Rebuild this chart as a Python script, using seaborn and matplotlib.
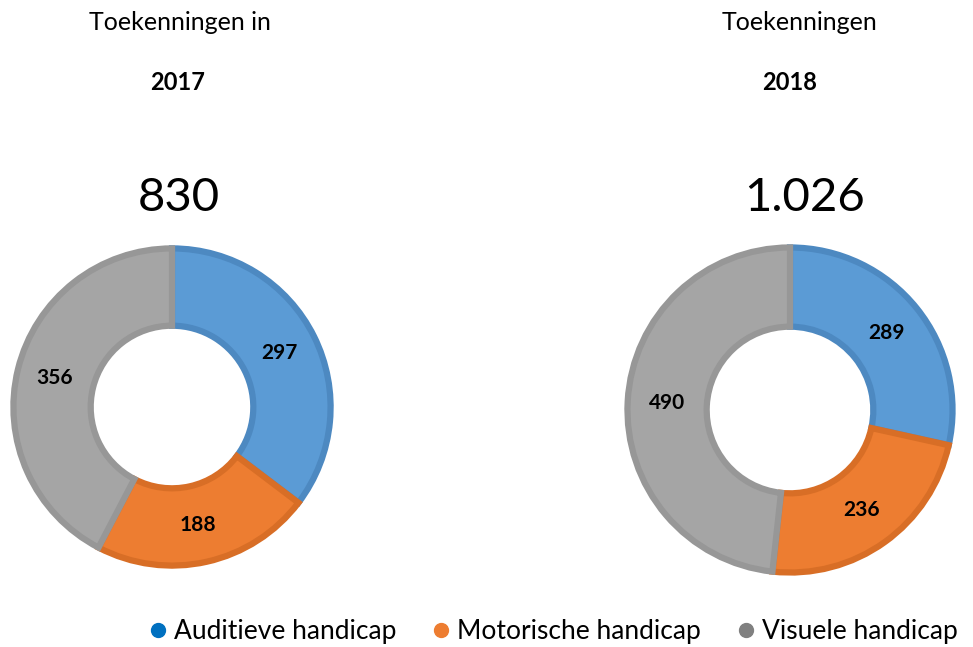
import matplotlib
matplotlib.use("Agg")
import matplotlib.pyplot as plt
from matplotlib.lines import Line2D
import seaborn as sns

sns.set_theme(style="white")
plt.rcParams['font.family'] = ['Lato', 'DejaVu Sans']
plt.rcParams['text.color'] = 'black'

categories = ["Auditieve handicap", "Motorische handicap", "Visuele handicap"]
values_2017 = [297, 188, 356]
values_2018 = [289, 236, 490]
total_2017 = "830"
total_2018 = "1.026"
title_2017 = ["Toekenningen in", "2017"]
title_2018 = ["Toekenningen", "2018"]

fill_colors = ["#5B9BD5", "#ED7D31", "#A5A5A5"]
edge_colors = ["#4D89C1", "#D86E26", "#979797"]
legend_colors = ["#0070C0", "#ED7D31", "#808080"]

W, H = 973, 647
fig = plt.figure(figsize=(W / 100, H / 100), dpi=100)
fig.patch.set_facecolor("white")


def donut(cx, cy, r, values):
    ax = fig.add_axes([(cx - r) / W, (H - cy - r) / H, 2 * r / W, 2 * r / H])
    wedges, texts, autotexts = ax.pie(
        values, colors=fill_colors, startangle=90, counterclock=False,
        radius=0.985, wedgeprops=dict(width=0.48, linewidth=0),
        autopct=lambda p: f"{round(p * sum(values) / 100):d}", pctdistance=0.76,
        textprops=dict(fontsize=15, fontweight="bold", color="black"))
    for w, ec in zip(wedges, edge_colors):
        w.set_edgecolor(ec)
        w.set_linewidth(4.5)
    ax.set_xlim(-1.0, 1.0)
    ax.set_ylim(-1.0, 1.0)
    ax.set_aspect("equal")
    ax.axis("off")
    return ax


donut(172, 407, 161, values_2017)
donut(790, 410, 165, values_2018)

fig.text(180 / W, 1 - 22 / H, title_2017[0], ha="center", va="center", fontsize=18, color="black")
fig.text(178 / W, 1 - 83 / H, title_2017[1], ha="center", va="center", fontsize=17, fontweight="bold", color="black")
fig.text(179 / W, 1 - 198 / H, total_2017, ha="center", va="center", fontsize=34, color="black")

fig.text(800 / W, 1 - 22 / H, title_2018[0], ha="center", va="center", fontsize=18, color="black")
fig.text(790 / W, 1 - 83 / H, title_2018[1], ha="center", va="center", fontsize=17, fontweight="bold", color="black")
fig.text(805 / W, 1 - 198 / H, total_2018, ha="center", va="center", fontsize=34, color="black")

handles = [Line2D([0], [0], marker="o", linestyle="none", markersize=10,
                  markerfacecolor=c, markeredgecolor=c) for c in legend_colors]
leg = fig.legend(handles, categories, loc="center", bbox_to_anchor=(552 / W, 1 - 632 / H),
                 ncol=3, frameon=False, fontsize=19, handletextpad=0.15,
                 columnspacing=1.25, handlelength=0.9, borderpad=0.1)
for t in leg.get_texts():
    t.set_color("black")

fig.savefig("out.png", dpi=100, facecolor="white")
